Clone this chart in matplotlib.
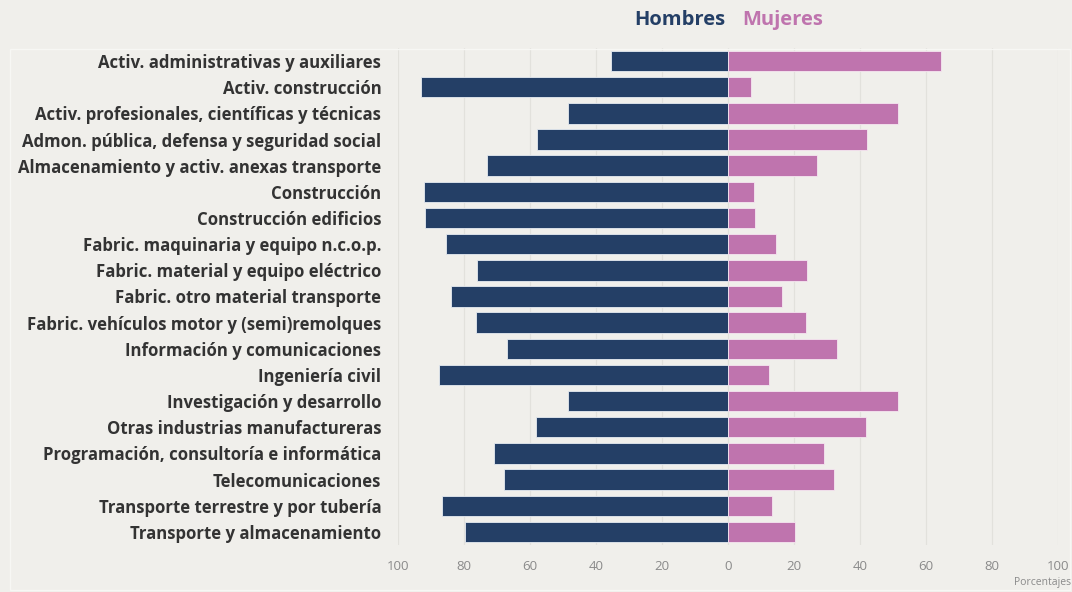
import numpy as np
import matplotlib.pyplot as plt
from matplotlib.patches import Rectangle

sectores = [
    "Activ. administrativas y auxiliares",
    "Activ. construcción",
    "Activ. profesionales, científicas y técnicas",
    "Admon. pública, defensa y seguridad social",
    "Almacenamiento y activ. anexas transporte",
    "Construcción",
    "Construcción edificios",
    "Fabric. maquinaria y equipo n.c.o.p.",
    "Fabric. material y equipo eléctrico",
    "Fabric. otro material transporte",
    "Fabric. vehículos motor y (semi)remolques",
    "Información y comunicaciones",
    "Ingeniería civil",
    "Investigación y desarrollo",
    "Otras industrias manufactureras",
    "Programación, consultoría e informática",
    "Telecomunicaciones",
    "Transporte terrestre y por tubería",
    "Transporte y almacenamiento",
]
hombres = [35.5, 93.0, 48.5, 58.0, 73.0, 92.0, 91.7, 85.6, 76.0, 83.8,
           76.3, 67.0, 87.6, 48.5, 58.3, 70.8, 68.0, 86.7, 79.7]
mujeres = [64.5, 7.0, 51.5, 42.0, 27.0, 8.0, 8.3, 14.4, 24.0, 16.2,
           23.7, 33.0, 12.4, 51.5, 41.7, 29.2, 32.0, 13.3, 20.3]
ticks = [-100, -80, -60, -40, -20, 0, 20, 40, 60, 80, 100]

navy = "#243f66"
pink = "#bf74ae"
bg = "#f0efeb"

plt.rcParams["font.family"] = ["Open Sans", "DejaVu Sans"]

fig = plt.figure(figsize=(10.72, 5.92), dpi=100, facecolor=bg)
fig.patches.append(Rectangle((10 / 1072, 2 / 592), 1060 / 1072, 541 / 592,
                             transform=fig.transFigure, fill=False,
                             edgecolor="#f7f7f4", linewidth=1.0, zorder=0))
ax = fig.add_axes([0.3713, 0.0794, 0.6157, 0.8396])
ax.set_facecolor(bg)

y = np.arange(len(sectores))
ax.barh(y, -np.array(hombres), height=0.78, color=navy,
        edgecolor="#e6ebf2", linewidth=0.6, zorder=3)
ax.barh(y, mujeres, height=0.78, color=pink,
        edgecolor="#f6e6f1", linewidth=0.6, zorder=3)

ax.set_xlim(-100, 100)
ax.set_ylim(len(sectores) - 0.5, -0.5)
ax.set_yticks(y)
ax.set_yticklabels(sectores, fontsize=12.1, fontweight="bold", color="#333333")
ax.set_xticks(ticks)
ax.set_xticklabels([str(abs(t)) for t in ticks], fontsize=9.5, color="#8a8a8a")
ax.tick_params(axis="y", length=0, pad=12)
ax.tick_params(axis="x", length=0, pad=11)
ax.grid(axis="x", color="#e2e1dc", linewidth=0.9, zorder=0)
for s in ax.spines.values():
    s.set_visible(False)

fig.text(725 / 1072, 1 - 20 / 592, "Hombres", color=navy, fontsize=14.5,
         fontweight="bold", ha="right", va="center")
fig.text(742 / 1072, 1 - 20 / 592, "Mujeres", color=pink, fontsize=14.5,
         fontweight="bold", ha="left", va="center")
fig.text(1071 / 1072, 1 - 583 / 592, "Porcentajes", color="#8a8a8a",
         fontsize=7.5, ha="right", va="center")

fig.savefig("out.png", dpi=100, facecolor=bg)
